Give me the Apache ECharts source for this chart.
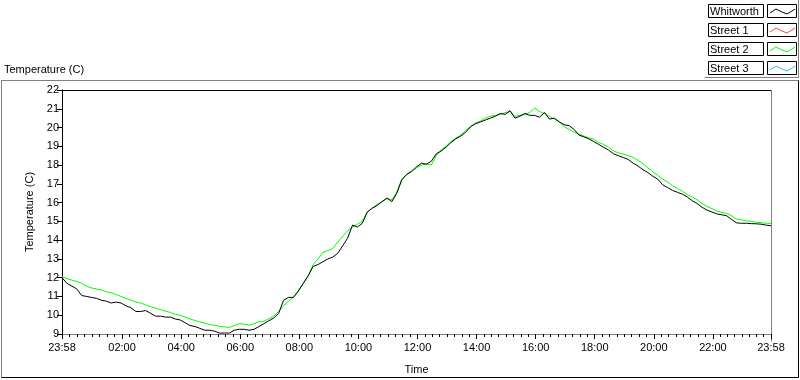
<!DOCTYPE html>
<html>
<head>
<meta charset="utf-8">
<script src="https://cdn.jsdelivr.net/npm/echarts@6/dist/echarts.min.js"></script>
<style>html,body{margin:0;padding:0;background:#fff}#c{width:800px;height:380px}</style>
</head>
<body>
<div id="c"></div>
<script>
// Sample step (minutes since 23:58 start)
const sampleStepMin = 10;
const seriesNames = ['Whitworth', 'Street 1', 'Street 2', 'Street 3'];
const seriesColors = ['#000000', '#ff4040', '#00ff00', '#33bbff'];

const whitworth = [
  12.0, 11.7, 11.55, 11.4, 11.05, 11.0, 10.95, 10.9, 10.8, 10.75,
  10.65, 10.7, 10.65, 10.5, 10.4, 10.2, 10.2, 10.25, 10.1, 9.95,
  9.95, 9.9, 9.9, 9.8, 9.75, 9.6, 9.45, 9.4, 9.3, 9.2,
  9.2, 9.15, 9.05, 9.05, 9.05, 9.2, 9.25, 9.25, 9.2, 9.25,
  9.4, 9.55, 9.7, 9.85, 10.1, 10.8, 10.95, 10.95, 11.3, 11.7,
  12.1, 12.6, 12.7, 12.85, 13.0, 13.1, 13.3, 13.7, 14.1, 14.8,
  14.7, 14.9, 15.5, 15.7, 15.85, 16.05, 16.25, 16.05, 16.5, 17.2,
  17.5, 17.65, 17.9, 18.1, 18.05, 18.2, 18.6, 18.75, 18.95, 19.2,
  19.4, 19.55, 19.75, 20.05, 20.2, 20.3, 20.4, 20.5, 20.6, 20.75,
  20.7, 20.9, 20.5, 20.6, 20.75, 20.65, 20.65, 20.55, 20.8, 20.45,
  20.5, 20.3, 20.15, 20.1, 19.9, 19.6, 19.5, 19.4, 19.25, 19.1,
  18.95, 18.8, 18.6, 18.5, 18.4, 18.3, 18.1, 17.95, 17.75, 17.6,
  17.4, 17.25, 16.95, 16.8, 16.65, 16.55, 16.45, 16.3, 16.1, 15.95,
  15.75, 15.6, 15.5, 15.4, 15.35, 15.3, 15.1, 14.92, 14.9, 14.9,
  14.88, 14.87, 14.85, 14.8, 14.77
];
const street2 = [
  12.05, 11.95, 11.87, 11.8, 11.7, 11.55, 11.45, 11.4, 11.35, 11.25,
  11.2, 11.1, 11.0, 10.9, 10.8, 10.7, 10.65, 10.55, 10.45, 10.38,
  10.3, 10.22, 10.15, 10.05, 10.0, 9.9, 9.8, 9.72, 9.65, 9.58,
  9.5, 9.47, 9.4, 9.38, 9.35, 9.45, 9.55, 9.52, 9.47, 9.55,
  9.65, 9.68, 9.8, 9.95, 10.2, 10.5, 10.75, 10.95, 11.25, 11.7,
  12.1, 12.7, 13.0, 13.35, 13.45, 13.55, 13.9, 14.2, 14.5, 14.7,
  14.85, 15.0, 15.5, 15.7, 15.9, 16.05, 16.2, 16.15, 16.55, 17.25,
  17.5, 17.7, 17.85, 18.0, 18.05, 18.0, 18.5, 18.8, 19.0, 19.25,
  19.45, 19.6, 19.85, 20.05, 20.25, 20.35, 20.5, 20.6, 20.65, 20.7,
  20.8, 20.85, 20.6, 20.65, 20.7, 20.8, 21.05, 20.85, 20.75, 20.6,
  20.45, 20.3, 20.05, 19.9, 19.75, 19.65, 19.55, 19.45, 19.37, 19.2,
  19.1, 18.95, 18.76, 18.65, 18.58, 18.5, 18.41, 18.25, 18.07, 17.85,
  17.65, 17.45, 17.25, 17.1, 16.9, 16.75, 16.6, 16.42, 16.3, 16.15,
  15.95, 15.8, 15.68, 15.55, 15.48, 15.42, 15.3, 15.12, 15.08, 15.03,
  15.0, 14.95, 14.93, 14.9, 14.89
];
const street1 = [];
const street3 = [];

// Axis ticks (minutes since 23:58 start) and their labels
const tickMinutes = [0, 122, 242, 362, 482, 602, 722, 842, 962, 1082, 1202, 1322, 1440];
const tickLabels = ['23:58', '02:00', '04:00', '06:00', '08:00', '10:00', '12:00', '14:00', '16:00', '18:00', '20:00', '22:00', '23:58'];
const minorPerMajor = 8;
const yMin = 9, yMax = 22;

const FONT = 'Liberation Sans, Arial, sans-serif';

function pairs(arr) { return arr.map((v, i) => [i * sampleStepMin, v]); }

const minorTicks = [];
for (let k = 0; k < tickMinutes.length - 1; k++) {
  const a = tickMinutes[k], b = tickMinutes[k + 1];
  for (let j = 1; j < minorPerMajor; j++) minorTicks.push(a + (b - a) * j / minorPerMajor);
}

const chart = echarts.init(document.getElementById('c'), null, { renderer: 'canvas' });

const gL = 62, gT = 90, gR = 771, gB = 341;

// legend graphic
const legendGraphics = [];
const rowY = [4, 23, 42, 61];
seriesNames.forEach((n, i) => {
  const y = rowY[i];
  legendGraphics.push({ type: 'rect', shape: { x: 708.5, y: y + 0.5, width: 55, height: 13 }, style: { fill: '#fff', stroke: '#000', lineWidth: 1 } });
  legendGraphics.push({ type: 'text', x: 710, y: y + 7.5, style: { text: n, fill: '#000', font: '11px ' + FONT, textVerticalAlign: 'middle', verticalAlign: 'middle' } });
  legendGraphics.push({ type: 'rect', shape: { x: 767.5, y: y + 0.5, width: 29, height: 13 }, style: { fill: '#fff', stroke: '#000', lineWidth: 1 } });
  legendGraphics.push({ type: 'polyline', shape: { points: [[770, y + 9], [776, y + 5], [782, y + 8], [787, y + 10], [792, y + 7], [795, y + 5]] }, style: { stroke: seriesColors[i], lineWidth: 1, fill: null } });
});

const option = {
  backgroundColor: '#ffffff',
  animation: false,
  grid: { left: gL, top: gT, width: gR - gL, height: gB - gT, containLabel: false, show: false },
  xAxis: [{
    type: 'value', min: 0, max: 1440,
    name: 'Time', nameLocation: 'middle', nameGap: 30,
    nameTextStyle: { color: '#000', fontSize: 11, fontFamily: FONT },
    axisLine: { show: true, lineStyle: { color: '#808080', width: 1 } },
    axisTick: { show: true, inside: false, length: 5, lineStyle: { color: '#000', width: 1 }, customValues: tickMinutes },
    axisLabel: { show: true, color: '#000', fontSize: 11, fontFamily: FONT, margin: 8, customValues: tickMinutes,
      formatter: (v) => { const i = tickMinutes.indexOf(Math.round(v)); return i >= 0 ? tickLabels[i] : ''; } },
    splitLine: { show: false }
  }, {
    type: 'value', min: 0, max: 1440, position: 'bottom',
    axisLine: { show: false },
    axisTick: { show: true, length: 3, lineStyle: { color: '#000', width: 1 }, customValues: minorTicks },
    axisLabel: { show: false, customValues: minorTicks },
    splitLine: { show: false }
  }],
  yAxis: {
    type: 'value', min: yMin, max: yMax, interval: 1,
    name: 'Temperature (C)', nameLocation: 'middle', nameGap: 21, nameRotate: 90,
    nameTextStyle: { color: '#000', fontSize: 11, fontFamily: FONT },
    axisLine: { show: true, lineStyle: { color: '#000', width: 1 } },
    axisTick: { show: true, length: 5, lineStyle: { color: '#000' } },
    axisLabel: { color: '#000', fontSize: 11, fontFamily: FONT, margin: 3 },
    splitLine: { show: false }
  },
  series: [
    { name: 'Street 1', type: 'line', data: pairs(street1), showSymbol: false, lineStyle: { color: seriesColors[1], width: 1 }, itemStyle: { color: seriesColors[1] } },
    { name: 'Street 3', type: 'line', data: pairs(street3), showSymbol: false, lineStyle: { color: seriesColors[3], width: 1 }, itemStyle: { color: seriesColors[3] } },
    { name: 'Street 2', type: 'line', data: pairs(street2), showSymbol: false, lineStyle: { color: seriesColors[2], width: 1 }, itemStyle: { color: seriesColors[2] } },
    { name: 'Whitworth', type: 'line', data: pairs(whitworth), showSymbol: false, lineStyle: { color: seriesColors[0], width: 1 }, itemStyle: { color: seriesColors[0] } }
  ],
  graphic: [
    // outer frame: gray top/left, black bottom/right
    { type: 'line', shape: { x1: 1.5, y1: 80.5, x2: 798.5, y2: 80.5 }, style: { stroke: '#808080', lineWidth: 1 } },
    { type: 'line', shape: { x1: 1.5, y1: 80.5, x2: 1.5, y2: 377.5 }, style: { stroke: '#808080', lineWidth: 1 } },
    { type: 'line', shape: { x1: 1.5, y1: 377.5, x2: 798.5, y2: 377.5 }, style: { stroke: '#000', lineWidth: 1 } },
    { type: 'line', shape: { x1: 798.5, y1: 80.5, x2: 798.5, y2: 377.5 }, style: { stroke: '#000', lineWidth: 1 } },
    // plot frame top (black) and right (gray)
    { type: 'line', shape: { x1: gL + 0.5, y1: gT + 0.5, x2: gR + 0.5, y2: gT + 0.5 }, style: { stroke: '#000', lineWidth: 1 } },
    { type: 'line', shape: { x1: gR + 0.5, y1: gT + 0.5, x2: gR + 0.5, y2: gB + 0.5 }, style: { stroke: '#808080', lineWidth: 1 } },
    // legend panel border
    { type: 'line', shape: { x1: 704.5, y1: 77.5, x2: 798.5, y2: 77.5 }, style: { stroke: '#808080', lineWidth: 1 } },
    { type: 'line', shape: { x1: 798.5, y1: 0, x2: 798.5, y2: 77.5 }, style: { stroke: '#808080', lineWidth: 1 } },
    // chart title
    { type: 'text', left: 4, top: 64, style: { text: 'Temperature (C)', fill: '#000', font: '11px ' + FONT } }
  ].concat(legendGraphics)
};
chart.setOption(option);
</script>
</body>
</html>
